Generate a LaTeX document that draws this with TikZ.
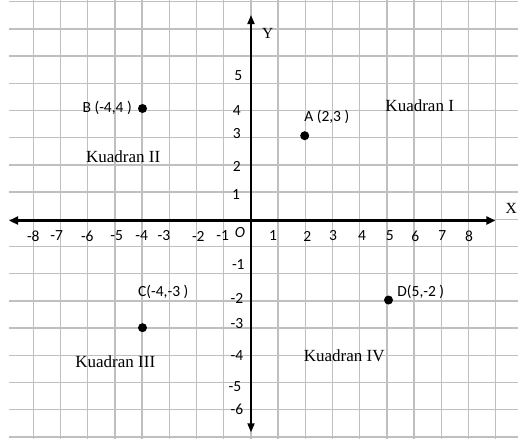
\documentclass[tikz,border=0pt]{standalone}
\usepackage{fontspec}
\setmainfont{Liberation Serif}
\newfontfamily\calib{Carlito}
\usetikzlibrary{arrows.meta}
\begin{document}
\begin{tikzpicture}[x=1pt,y=-1pt,
  gridline/.style={draw=black!25, line width=1.3pt},
  xaxis/.style={draw=black, line width=2.4pt, {Triangle[length=9pt,width=8pt]}-{Triangle[length=9pt,width=8pt]}},
  yaxis/.style={draw=black, line width=1.7pt, {Triangle[length=9pt,width=7pt]}-{Triangle[length=9pt,width=7pt]}},
  ticklab/.style={font=\calib\fontsize{15.5}{15.5}\selectfont, inner sep=0pt},
  ptlabel/.style={font=\calib\fontsize{15.5}{16}\selectfont, inner sep=0pt},
  quad/.style={font=\fontsize{17}{17}\selectfont, inner sep=0pt},
  axname/.style={font=\fontsize{15.5}{15.5}\selectfont, inner sep=0pt},
  dot/.style={circle, fill=black, minimum size=9pt, inner sep=0pt}]
\useasboundingbox (0,0) rectangle (518,439);
% grid
\foreach \i in {0,...,17} \draw[gridline] ({33.3+27.2*\i},0) -- ({33.3+27.2*\i},439);
\foreach \j in {0,...,16} \draw[gridline] (9,{1.7+27.2*\j}) -- (518,{1.7+27.2*\j});
% axes
\coordinate (xl) at (9,220.5);
\coordinate (xr) at (495.3,220.5);
\coordinate (yt) at (251,15);
\coordinate (yb) at (251,432.3);
\draw[xaxis] (xl) -- (xr);
\draw[yaxis] (yb) -- (yt);
\node[axname] (xname) at (511.3,208.3) {X};
\node[axname] (yname) at (267.7,33.3) {Y};
% x tick labels
\foreach \v/\px in {-8/33.3,-7/56.7,-6/87.3,-5/116.7,-4/141.7,-3/164,-2/198.3,-1/222.7,1/273,2/307.3,3/333,4/362,5/389.7,6/415.3,7/442.3,8/469}
  \node[ticklab] (tx\v) at (\px,236) {\v};
\node[ticklab, font=\calib\itshape\fontsize{15.5}{15.5}\selectfont] (orig) at (240,233) {O};
% y tick labels
\foreach \v/\px/\py in {5/238.3/76,4/236.7/111,3/236.7/134,2/236.7/166.7,1/236/195,-1/238.3/265,-2/237/298.3,-3/237/323.3,-4/237/355.7,-5/235/386.7,-6/237/409}
  \node[ticklab] (ty\v) at (\px,\py) {\v};
% points
\node[dot] (B) at (142.5,108.5) {};
\node[dot] (A) at (304.7,135.7) {};
\node[dot] (C) at (142.5,327.7) {};
\node[dot] (D) at (388.5,300) {};
\node[ptlabel] (Blab) at (107.2,108.3) {B (-4,4 )};
\node[ptlabel] (Alab) at (326.8,116.7) {A (2,3 )};
\node[ptlabel] (Clab) at (163.3,291.7) {C(-4,-3 )};
\node[ptlabel] (Dlab) at (420.8,291.7) {D(5,-2 )};
% quadrant names
\node[quad] (q1) at (419.7,106) {Kuadran I};
\node[quad] (q2) at (123.2,156.7) {Kuadran II};
\node[quad] (q3) at (115.3,361.7) {Kuadran III};
\node[quad] (q4) at (344.2,356) {Kuadran IV};
\end{tikzpicture}
\end{document}
